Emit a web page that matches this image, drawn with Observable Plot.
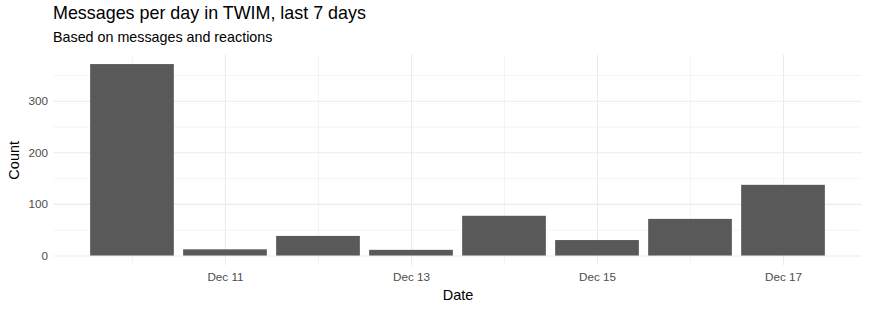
<!DOCTYPE html>
<html>
<head>
<meta charset="utf-8">
<script src="https://cdn.jsdelivr.net/npm/d3@7"></script>
<script src="https://cdn.jsdelivr.net/npm/@observablehq/plot@0.6"></script>
<style>
  html, body { margin: 0; padding: 0; background: #fff; }
  #wrap { position: relative; width: 869px; height: 310px; font-family: "Liberation Sans", Arial, sans-serif; }
  #title { position: absolute; left: 53px; top: 3px; font-size: 17.9px; color: #000; white-space: nowrap; }
  #subtitle { position: absolute; left: 53px; top: 29px; font-size: 14.3px; color: #000; white-space: nowrap; }
  #chart { position: absolute; left: 0; top: 0; }
</style>
</head>
<body>
<div id="wrap">
  <div id="chart"></div>
  <div id="title">Messages per day in TWIM, last 7 days</div>
  <div id="subtitle">Based on messages and reactions</div>
</div>
<script>
const dates = ["2023-12-10","2023-12-11","2023-12-12","2023-12-13","2023-12-14","2023-12-15","2023-12-16","2023-12-17"];
const counts = [371, 12, 38, 11, 77, 30, 71, 137];
const majorXTicks = ["2023-12-11","2023-12-13","2023-12-15","2023-12-17"];
const minorXTicks = ["2023-12-10","2023-12-12","2023-12-14","2023-12-16"];
const majorYTicks = [0, 100, 200, 300];
const minorYTicks = [50, 150, 250, 350];

const DAY = 86400000;
const parse = s => new Date(s + "T00:00:00Z");
const data = dates.map((d, i) => {
  const t = parse(d).getTime();
  return {x1: new Date(t - 0.45 * DAY), x2: new Date(t + 0.45 * DAY), y: counts[i]};
});
const t0 = parse(dates[0]).getTime() - 0.45 * DAY;
const t1 = parse(dates[dates.length - 1]).getTime() + 0.45 * DAY;
const xpad = (t1 - t0) * 0.05;
const ymax = d3.max(counts);
const ypad = ymax * 0.05;

const chart = Plot.plot({
  width: 869,
  height: 310,
  marginLeft: 53.4,
  marginRight: 7.4,
  marginTop: 54.5,
  marginBottom: 44.9,
  style: {fontFamily: "'Liberation Sans', Arial, sans-serif", background: "transparent"},
  x: {type: "utc", domain: [new Date(t0 - xpad), new Date(t1 + xpad)]},
  y: {domain: [-ypad, ymax + ypad]},
  marks: [
    Plot.gridX(minorXTicks.map(parse), {stroke: "#ebebeb", strokeOpacity: 1, strokeWidth: 0.55}),
    Plot.gridY(minorYTicks, {stroke: "#ebebeb", strokeOpacity: 1, strokeWidth: 0.55}),
    Plot.gridX(majorXTicks.map(parse), {stroke: "#ebebeb", strokeOpacity: 1, strokeWidth: 1.1}),
    Plot.gridY(majorYTicks, {stroke: "#ebebeb", strokeOpacity: 1, strokeWidth: 1.1}),
    Plot.rectY(data, {x1: "x1", x2: "x2", y1: 0, y2: "y", fill: "#595959"}),
    Plot.axisX(majorXTicks.map(parse), {
      tickSize: 0, tickPadding: 7, fontSize: 11.7, fill: "#4d4d4d",
      tickFormat: d3.utcFormat("%b %-d"),
      label: "Date", labelAnchor: "center", labelArrow: "none", labelOffset: 34
    }),
    Plot.axisY(majorYTicks, {
      tickSize: 0, tickPadding: 6, fontSize: 11.7, fill: "#4d4d4d",
      label: "Count", labelAnchor: "center", labelArrow: "none", labelOffset: 45
    })
  ]
});
document.getElementById("chart").appendChild(chart);
chart.querySelectorAll("g[aria-label='x-axis label'] text, g[aria-label='y-axis label'] text").forEach(t => {
  t.setAttribute("fill", "#000");
  t.style.fontSize = "14.5px";
});
chart.querySelectorAll("g[aria-label='x-axis label'], g[aria-label='y-axis label']").forEach(g => {
  g.setAttribute("fill", "#000");
  g.setAttribute("font-size", "14.5");
});
</script>
</body>
</html>
